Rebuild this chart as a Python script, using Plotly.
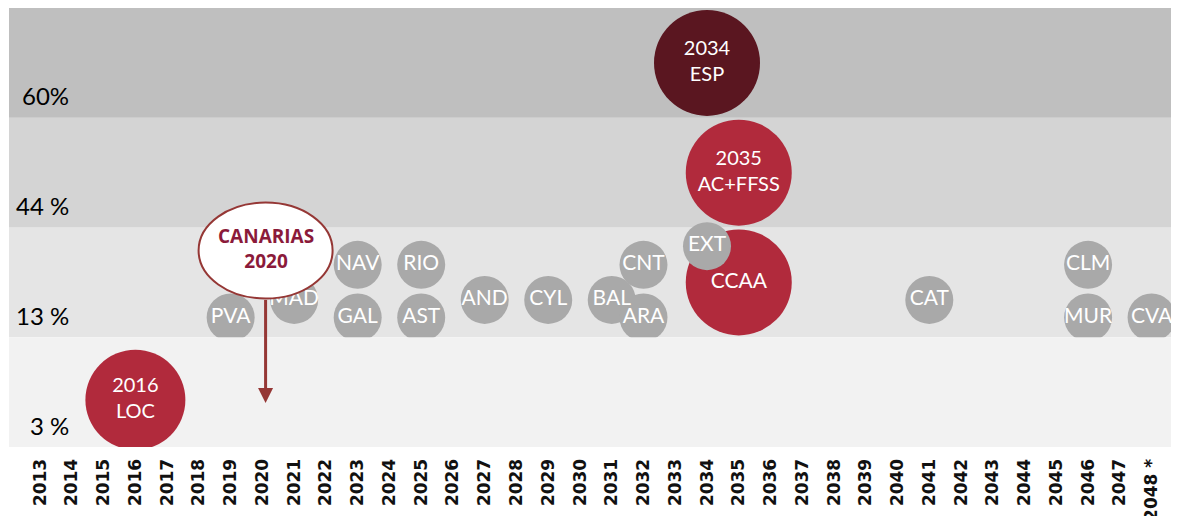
import plotly.graph_objects as go

# ---------------- data ----------------
years = list(range(2013, 2049))
year_ticktext = [str(y) for y in years[:-1]] + ["2048 *"]

band_labels = ["3 %", "13 %", "44 %", "60%"]
band_colors = ["#f2f2f2", "#e5e5e5", "#d4d4d4", "#bfbfbf"]

gray_labels = ["PVA", "MAD", "NAV", "GAL", "RIO", "AST", "AND", "CYL", "BAL",
               "CNT", "ARA", "EXT", "CAT", "CLM", "MUR", "CVA"]
gray_years = [2019, 2021, 2023, 2023, 2025, 2025, 2027, 2029, 2031,
              2032, 2032, 2034, 2041, 2046, 2046, 2048]
gray_levels = [1.18, 1.34, 1.66, 1.18, 1.66, 1.18, 1.34, 1.34, 1.34,
               1.66, 1.18, 1.83, 1.34, 1.66, 1.18, 1.18]

red_labels = ["2016<br>LOC", "CCAA", "2035<br>AC+FFSS", "2034<br>ESP"]
red_years = [2016, 2035, 2035, 2034]
red_levels = [0.43, 1.50, 2.50, 3.50]
red_colors = ["#b12a3c", "#b12a3c", "#b12a3c", "#5a1620"]

callout_text = "CANARIAS<br>2020"
callout_year = 2020
callout_level = 1.79      # centre of the callout bubble
callout_target = 0.40     # arrow tip level

# ---------------- figure ----------------
x_min, x_max = 2012.02, 2048.80
fig = go.Figure()


def band_trace(i):
    return go.Scatter(
        x=[x_min, x_max, x_max, x_min, x_min],
        y=[i, i, i + 1, i + 1, i],
        fill="toself", fillcolor=band_colors[i], mode="none",
        hoverinfo="skip", showlegend=False)


# upper bands
for i in (1, 2, 3):
    fig.add_trace(band_trace(i))

# CCAA big bubble (below the grey EXT bubble)
fig.add_trace(go.Scatter(
    x=[red_years[1]], y=[red_levels[1]], mode="markers+text",
    text=[red_labels[1]], textposition="middle center",
    marker=dict(size=106, color=red_colors[1], line=dict(width=0)),
    textfont=dict(family="Lato", size=21, color="white"),
    showlegend=False, hoverinfo="skip"))

# grey region bubbles
fig.add_trace(go.Scatter(
    x=gray_years, y=gray_levels, mode="markers+text",
    text=gray_labels, textposition="middle center",
    marker=dict(size=48, color="#a9a9a9", line=dict(width=0)),
    textfont=dict(family="Lato", size=21, color="white"),
    showlegend=False, hoverinfo="skip"))

# lowest band drawn over the bottom of the 13 % bubbles
fig.add_trace(band_trace(0))

# remaining red bubbles
for idx, size in ((0, 100), (2, 106), (3, 106)):
    fig.add_trace(go.Scatter(
        x=[red_years[idx]], y=[red_levels[idx]], mode="markers+text",
        text=[red_labels[idx]], textposition="middle center",
        marker=dict(size=size, color=red_colors[idx], line=dict(width=0)),
        textfont=dict(family="Lato", size=20, color="white"),
        showlegend=False, hoverinfo="skip"))

# band labels
for i, lab in enumerate(band_labels):
    fig.add_annotation(
        x=0.053, xref="paper", y=i + 0.2, yref="y", text=lab,
        showarrow=False, xanchor="right", yanchor="middle",
        font=dict(family="Lato", size=24, color="#000000"))

# callout ellipse
half_w, half_h = 2.11, 0.437
fig.add_shape(
    type="circle", xref="x", yref="y", layer="above",
    x0=callout_year - half_w + 0.1, x1=callout_year + half_w + 0.1,
    y0=callout_level - half_h, y1=callout_level + half_h,
    fillcolor="white", line=dict(color="#953735", width=2))
fig.add_annotation(
    x=callout_year + 0.1, y=callout_level + 0.02, xref="x", yref="y",
    text="<b>" + callout_text + "</b>", showarrow=False,
    font=dict(family="Open Sans", size=19, color="#8b1a3a"),
    align="center")
# arrow
fig.add_annotation(
    x=callout_year + 0.1, y=callout_target, xref="x", yref="y",
    ax=callout_year + 0.1, ay=callout_level - half_h, axref="x", ayref="y",
    text="", showarrow=True, arrowhead=2, arrowsize=1.0, arrowwidth=3,
    arrowcolor="#953735")

fig.update_xaxes(
    range=[x_min, x_max], tickmode="array", tickvals=years,
    ticktext=["<b>" + t + "</b>" for t in year_ticktext], tickangle=-90,
    tickfont=dict(family="DejaVu Sans", size=17, color="#111111"),
    showgrid=False, zeroline=False, showline=False, automargin=False,
    ticks="outside", ticklen=4, tickcolor="rgba(0,0,0,0)")
fig.update_yaxes(range=[0, 4], visible=False, showgrid=False, zeroline=False,
                 automargin=False)

# the page adds an 8 px body margin, so the figure is sized to fit inside it
fig.update_layout(
    width=1171, height=508,
    margin=dict(l=1, r=2, t=0, b=69, autoexpand=False),
    plot_bgcolor="white", paper_bgcolor="white",
    showlegend=False)

fig.write_html("out.html")
